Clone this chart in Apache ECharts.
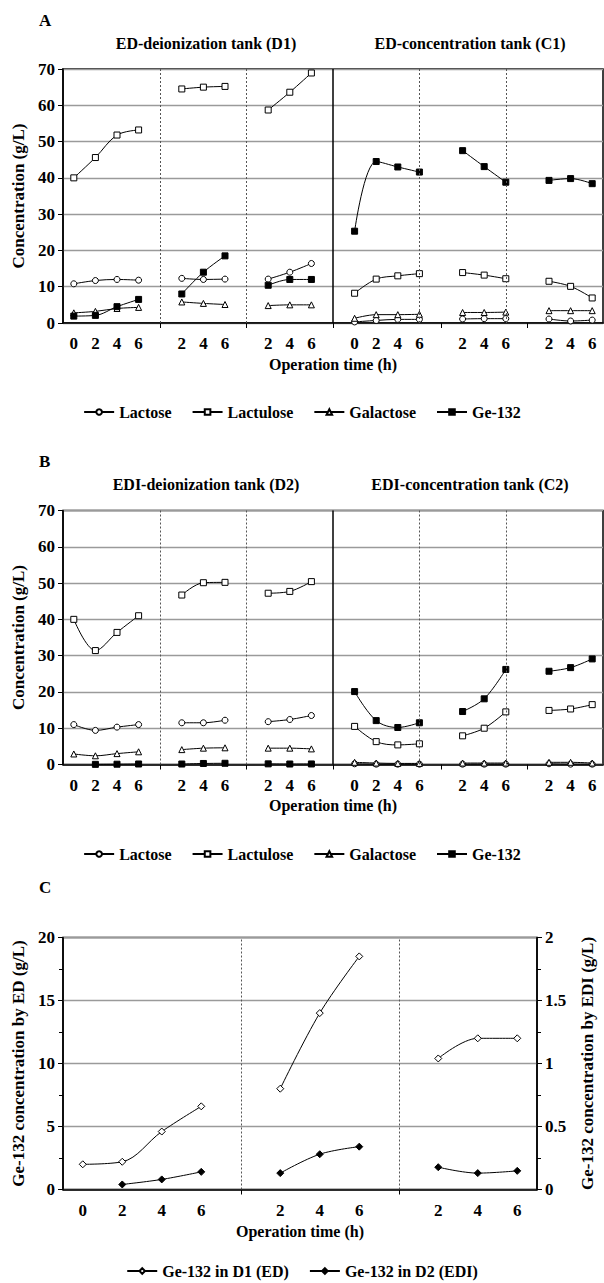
<!DOCTYPE html>
<html><head><meta charset="utf-8">
<script src="https://cdn.jsdelivr.net/npm/echarts@6/dist/echarts.min.js"></script>
<style>html,body{margin:0;padding:0;background:#fff}#c{width:604px;height:1283px}</style>
</head><body><div id="c"></div>
<script>
// Categories (blank entries are the gaps between runs)
const catsAB = ['0','2','4','6','','2','4','6','','2','4','6','','0','2','4','6','','2','4','6','','2','4','6'];
const catsC = ['0','2','4','6','','2','4','6','','2','4','6'];

// Panel A: ED (D1 | C1)
const aLactose   = [10.8, 11.7, 12.0, 11.8, null, 12.3, 12.0, 12.1, null, 12.1, 14.0, 16.4, null, 0.3, 0.7, 1.0, 1.0, null, 1.1, 1.2, 1.2, null, 1.1, 0.55, 0.8];
const aLactulose = [40.0, 45.6, 51.8, 53.2, null, 64.5, 65.0, 65.2, null, 58.7, 63.6, 68.9, null, 8.2, 12.1, 13.0, 13.6, null, 13.9, 13.2, 12.2, null, 11.5, 10.1, 6.9];
const aGalactose = [2.8, 3.2, 4.0, 4.3, null, 5.8, 5.4, 5.1, null, 4.8, 5.0, 5.0, null, 1.3, 2.3, 2.3, 2.4, null, 2.9, 2.9, 3.0, null, 3.4, 3.4, 3.4];
const aGe132     = [1.9, 2.1, 4.5, 6.5, null, 8.0, 14.0, 18.5, null, 10.4, 12.0, 12.0, null, 25.3, 44.5, 43.0, 41.6, null, 47.5, 43.1, 38.8, null, 39.3, 39.8, 38.4];

// Panel B: EDI (D2 | C2)
const bLactose   = [11.0, 9.4, 10.3, 11.0, null, 11.5, 11.5, 12.2, null, 11.8, 12.4, 13.5, null, 0.2, 0.1, 0.1, 0.1, null, 0.1, 0.1, 0.1, null, 0.2, 0.1, 0.1];
const bLactulose = [40.0, 31.4, 36.4, 41.0, null, 46.7, 50.1, 50.2, null, 47.2, 47.7, 50.4, null, 10.5, 6.3, 5.4, 5.7, null, 7.9, 10.0, 14.5, null, 14.9, 15.3, 16.5];
const bGalactose = [2.9, 2.4, 3.0, 3.5, null, 4.1, 4.5, 4.6, null, 4.5, 4.5, 4.3, null, 0.6, 0.4, 0.3, 0.3, null, 0.4, 0.4, 0.4, null, 0.6, 0.6, 0.4];
const bGe132     = [null, 0.04, 0.08, 0.14, null, 0.13, 0.28, 0.34, null, 0.18, 0.13, 0.15, null, 20.1, 12.1, 10.2, 11.5, null, 14.6, 18.1, 26.2, null, 25.7, 26.7, 29.1];

// Panel C: Ge-132 in deionization tanks
const cD1ED  = [2.0, 2.2, 4.6, 6.6, null, 8.0, 14.0, 18.5, null, 10.4, 12.0, 12.0];
const cD2EDI = [null, 0.04, 0.08, 0.14, null, 0.13, 0.28, 0.34, null, 0.177, 0.13, 0.148];

const FONT = 'Liberation Serif';
const txt = (size) => ({fontFamily: FONT, fontWeight: 'bold', fontSize: size, color: '#000'});

function xAxisCfg(gridIndex, cats) {
  return {
    type: 'category', gridIndex, data: cats, boundaryGap: true,
    name: 'Operation time (h)', nameLocation: 'middle', nameGap: 33,
    nameTextStyle: txt(16),
    axisLine: {lineStyle: {color: '#000', width: 1.5}},
    axisTick: {show: true, alignWithLabel: true, interval: (i, v) => v === '', length: 5, lineStyle: {color: '#000', width: 1}},
    axisLabel: Object.assign({interval: 0, margin: 12}, txt(17)),
    splitLine: {show: false}
  };
}
function yAxisCfg(gridIndex, max, interval, name, extra) {
  return Object.assign({
    type: 'value', gridIndex, min: 0, max, interval,
    name, nameLocation: 'middle', nameGap: 36, nameTextStyle: txt(17),
    axisLine: {show: true, lineStyle: {color: '#000', width: 1.5}},
    axisTick: {show: true, length: 5, lineStyle: {color: '#000'}},
    axisLabel: Object.assign({margin: 8}, txt(17)),
    splitLine: {show: true, lineStyle: {color: '#9a9a9a', width: 1.3}}
  }, extra || {});
}
const dotted = {type: [2, 2], color: '#555', width: 1};
const solid = {type: 'solid', color: '#000', width: 1.5};
function sepLines(list) {
  return {silent: true, symbol: ['none', 'none'], label: {show: false}, animation: false,
    data: list.map(([i, st]) => ({xAxis: i, lineStyle: st}))};
}
const markers = {
  'Lactose': {symbol: 'circle', symbolSize: 6, fill: '#fff'},
  'Lactulose': {symbol: 'rect', symbolSize: 6, fill: '#fff'},
  'Galactose': {symbol: 'triangle', symbolSize: 6, fill: '#fff'},
  'Ge-132': {symbol: 'rect', symbolSize: 6, fill: '#000'},
  'Ge-132 in D1 (ED)': {symbol: 'diamond', symbolSize: 7, fill: '#fff'},
  'Ge-132 in D2 (EDI)': {symbol: 'diamond', symbolSize: 7, fill: '#000'}
};
function line(name, data, xi, yi, extra) {
  const m = markers[name];
  return Object.assign({
    type: 'line', name, data, xAxisIndex: xi, yAxisIndex: yi,
    smooth: 0.35, connectNulls: false, showAllSymbol: true,
    symbol: m.symbol, symbolSize: m.symbolSize,
    lineStyle: {color: '#000', width: 1},
    itemStyle: {color: m.fill, borderColor: '#000', borderWidth: 1},
    emphasis: {disabled: true}, z: 3
  }, extra || {});
}
const abSeps = sepLines([[4, dotted], [8, dotted], [12, solid], [16, dotted], [20, dotted]]);
const cSeps = sepLines([[4, dotted], [8, dotted]]);

const gridBase = {show: true, borderColor: '#000', borderWidth: 1.5, backgroundColor: 'transparent'};
const legendBase = {left: 'center', itemWidth: 30, itemHeight: 7, itemGap: 20, textStyle: txt(16), selectedMode: false};

const gtext = (text, x, y, size, align) => ({type: 'text', x, y, silent: true,
  style: {text, fill: '#000', font: 'bold ' + size + 'px "' + FONT + '"', textAlign: align || 'center', textVerticalAlign: 'middle'}});

const option = {
  animation: false,
  backgroundColor: '#fff',
  graphic: [
    gtext('A', 39, 20, 17, 'left'),
    gtext('ED-deionization tank (D1)', 206, 43, 16),
    gtext('ED-concentration tank (C1)', 470, 43, 16),
    gtext('B', 39, 461, 17, 'left'),
    gtext('EDI-deionization tank (D2)', 206, 484, 16),
    gtext('EDI-concentration tank (C2)', 470, 484, 16),
    gtext('C', 39, 887, 17, 'left')
  ],
  grid: [
    Object.assign({left: 63, right: 1, top: 69, height: 254}, gridBase),
    Object.assign({left: 63, right: 1, top: 510.5, height: 254}, gridBase),
    Object.assign({left: 63, right: 61, top: 937.5, height: 252}, gridBase)
  ],
  legend: [
    Object.assign({top: 399, data: ['Lactose', 'Lactulose', 'Galactose', 'Ge-132']}, legendBase),
    Object.assign({top: 841, data: ['Lactose', 'Lactulose', 'Galactose', 'Ge-132']}, legendBase),
    Object.assign({top: 1258, data: ['Ge-132 in D1 (ED)', 'Ge-132 in D2 (EDI)'], itemGap: 40}, legendBase)
  ],
  xAxis: [xAxisCfg(0, catsAB), xAxisCfg(1, catsAB), Object.assign(xAxisCfg(2, catsC), {nameGap: 34})],
  yAxis: [
    yAxisCfg(0, 70, 10, 'Concentration (g/L)'),
    yAxisCfg(1, 70, 10, 'Concentration (g/L)'),
    yAxisCfg(2, 20, 5, 'Ge-132 concentration by ED (g/L)', {minorTick: {show: true, splitNumber: 2, length: 4, lineStyle: {color: '#000'}}}),
    yAxisCfg(2, 2, 0.5, 'Ge-132 concentration by EDI (g/L)', {position: 'right', nameRotate: 90, nameGap: 42,
      splitLine: {show: false}, minorTick: {show: true, splitNumber: 2, length: 4, lineStyle: {color: '#000'}}})
  ],
  series: [
    line('Lactose', aLactose, 0, 0, {markLine: abSeps}),
    line('Lactulose', aLactulose, 0, 0),
    line('Galactose', aGalactose, 0, 0),
    line('Ge-132', aGe132, 0, 0),
    line('Lactose', bLactose, 1, 1, {markLine: abSeps}),
    line('Lactulose', bLactulose, 1, 1),
    line('Galactose', bGalactose, 1, 1),
    line('Ge-132', bGe132, 1, 1),
    line('Ge-132 in D1 (ED)', cD1ED, 2, 2, {markLine: cSeps}),
    line('Ge-132 in D2 (EDI)', cD2EDI, 2, 3)
  ]
};
const chart = echarts.init(document.getElementById('c'), null, {renderer: 'svg'});
chart.setOption(option);
</script></body></html>
